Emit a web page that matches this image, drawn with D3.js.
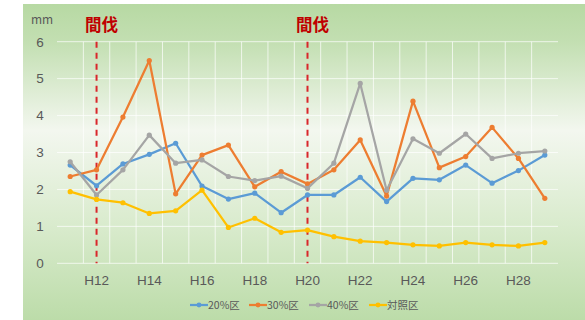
<!DOCTYPE html>
<html>
<head>
<meta charset="utf-8">
<script src="https://cdn.jsdelivr.net/npm/d3@7.9.0/dist/d3.min.js"></script>
<style>
  body { margin: 0; background: #fff; }
  svg { display: block; font-family: "Noto Sans CJK JP", "Noto Sans", sans-serif; }
</style>
</head>
<body>
<svg id="chart" width="585" height="320"></svg>
<script>
const years = ['H11','H12','H13','H14','H15','H16','H17','H18','H19','H20',
               'H21','H22','H23','H24','H25','H26','H27','H28','H29'];
const tickYears = ['H12','H14','H16','H18','H20','H22','H24','H26','H28'];
const thinYears = ['H12', 'H20'];

const s20 = [2.66, 2.10, 2.69, 2.95, 3.25, 2.09, 1.74, 1.90, 1.37, 1.85,
             1.85, 2.33, 1.67, 2.30, 2.26, 2.66, 2.17, 2.51, 2.93];
const s30 = [2.35, 2.53, 3.96, 5.49, 1.88, 2.93, 3.20, 2.07, 2.48, 2.15,
             2.53, 3.34, 1.82, 4.39, 2.59, 2.89, 3.68, 2.84, 1.76];
const s40 = [2.75, 1.85, 2.53, 3.47, 2.71, 2.80, 2.35, 2.24, 2.36, 2.03,
             2.71, 4.87, 1.98, 3.37, 2.98, 3.50, 2.84, 2.98, 3.04];
const control = [1.94, 1.73, 1.64, 1.35, 1.42, 1.98, 0.97, 1.22, 0.84, 0.90,
                 0.72, 0.60, 0.56, 0.50, 0.47, 0.56, 0.50, 0.47, 0.56];

const seriesNames = ['20%区', '30%区', '40%区', '対照区'];
const seriesColors = ['#5b9bd5', '#ed7d31', '#a5a5a5', '#ffc000'];
const seriesData = [s20, s30, s40, control];

const svg = d3.select('#chart');

// background panel gradient
const defs = svg.append('defs');
const grad = defs.append('linearGradient')
  .attr('id', 'bg').attr('x1', 0).attr('y1', 0).attr('x2', 0).attr('y2', 1);
grad.append('stop').attr('offset', '0%').attr('stop-color', '#b7d9a3');
grad.append('stop').attr('offset', '12%').attr('stop-color', '#c3dfb2');
grad.append('stop').attr('offset', '40%').attr('stop-color', '#f3f7ef');
grad.append('stop').attr('offset', '70%').attr('stop-color', '#d9ebcd');
grad.append('stop').attr('offset', '100%').attr('stop-color', '#bcdca9');

svg.append('rect')
  .attr('x', 23).attr('y', 4).attr('width', 562).attr('height', 316)
  .attr('fill', 'url(#bg)');

const margin = { left: 57, right: 27, top: 41.7, bottom: 56.7 };
const width = 585, height = 320;

const x = d3.scaleBand()
  .domain(years)
  .range([margin.left, width - margin.right])
  .padding(0);

const y = d3.scaleLinear()
  .domain([0, 6])
  .range([height - margin.bottom, margin.top]);

const cx = d => x(d) + x.bandwidth() / 2;

// gridlines
const grid = svg.append('g').attr('stroke', '#ffffff').attr('stroke-opacity', 0.7).attr('stroke-width', 1);
grid.selectAll('line.h')
  .data(y.ticks(6))
  .join('line')
  .attr('x1', margin.left).attr('x2', width - margin.right)
  .attr('y1', d => y(d)).attr('y2', d => y(d));
grid.selectAll('line.v')
  .data(years.slice(1))
  .join('line')
  .attr('x1', d => x(d)).attr('x2', d => x(d))
  .attr('y1', y(6)).attr('y2', y(0));

// y axis
const yAxis = d3.axisLeft(y).ticks(6).tickSize(0).tickPadding(0);
const gy = svg.append('g')
  .attr('transform', `translate(45,0)`)
  .call(yAxis);
gy.select('.domain').remove();
gy.selectAll('text')
  .attr('fill', '#595959').attr('font-size', 13.5)
  .attr('text-anchor', 'middle').attr('x', -5)
  .attr('font-family', '"Liberation Sans", sans-serif');

svg.append('text')
  .attr('x', 42).attr('y', 24)
  .attr('text-anchor', 'middle')
  .attr('fill', '#595959').attr('font-size', 12)
  .text('mm');

// x axis
const xAxis = d3.axisBottom(x).tickValues(tickYears).tickSize(0).tickPadding(0);
const gx = svg.append('g')
  .attr('transform', `translate(0,${y(0) + 12})`)
  .call(xAxis);
gx.select('.domain').remove();
gx.selectAll('text')
  .attr('fill', '#595959').attr('font-size', 13.5)
  .attr('font-family', '"Liberation Sans", sans-serif');

// thinning markers
thinYears.forEach(t => {
  svg.append('line')
    .attr('x1', cx(t)).attr('x2', cx(t))
    .attr('y1', y(6)).attr('y2', y(0))
    .attr('stroke', '#d9262b').attr('stroke-width', 2)
    .attr('stroke-dasharray', '6,5');
  svg.append('text')
    .attr('x', cx(t) + 5).attr('y', 31)
    .attr('text-anchor', 'middle')
    .attr('fill', '#c00000').attr('font-size', 16.5).attr('font-weight', 'bold')
    .text('間伐');
});

// series
const line = d3.line()
  .x((d, i) => cx(years[i]))
  .y(d => y(d));

seriesData.forEach((vals, k) => {
  const g = svg.append('g');
  g.append('path')
    .datum(vals)
    .attr('d', line)
    .attr('fill', 'none')
    .attr('stroke', seriesColors[k])
    .attr('stroke-width', 2.25)
    .attr('stroke-linejoin', 'round');
  g.selectAll('circle')
    .data(vals)
    .join('circle')
    .attr('cx', (d, i) => cx(years[i]))
    .attr('cy', d => y(d))
    .attr('r', 2.6)
    .attr('fill', seriesColors[k]);
});

// legend
const legendX = [190, 249, 309, 369];
const legend = svg.append('g').attr('transform', 'translate(0,305)');
seriesNames.forEach((name, k) => {
  const item = legend.append('g').attr('transform', `translate(${legendX[k]},0)`);
  item.append('line')
    .attr('x1', 0).attr('x2', 18).attr('y1', 0).attr('y2', 0)
    .attr('stroke', seriesColors[k]).attr('stroke-width', 2.25);
  item.append('circle').attr('cx', 9).attr('cy', 0).attr('r', 2.4).attr('fill', seriesColors[k]);
  item.append('text')
    .attr('x', 18).attr('y', 4)
    .attr('fill', '#595959').attr('font-size', 10.5)
    .text(name);
});
</script>
</body>
</html>
